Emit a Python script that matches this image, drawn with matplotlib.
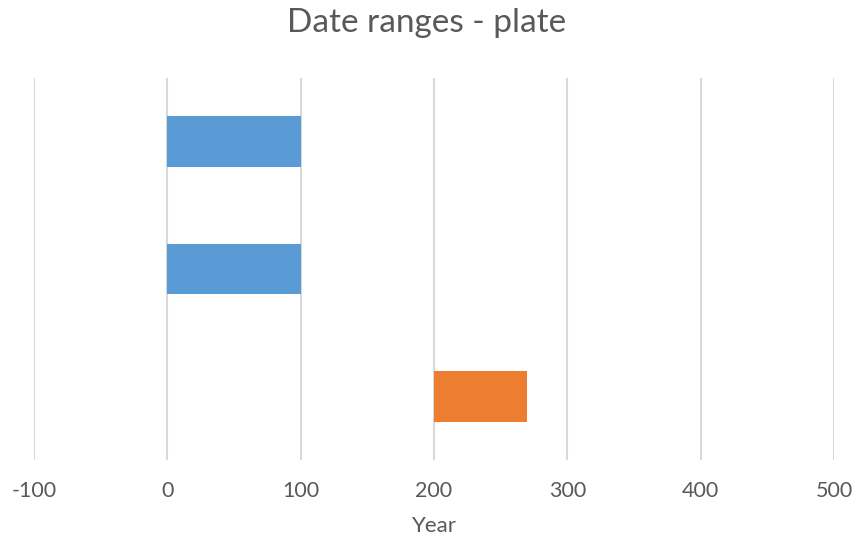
import matplotlib
matplotlib.use("Agg")
import matplotlib.pyplot as plt

# Date ranges per plate record (start year, end year)
categories = ["Plate A", "Plate B", "Plate C"]
start_years = [0, 0, 200]
end_years = [100, 100, 270]
bar_colors = ["#5B9BD5", "#5B9BD5", "#ED7D31"]
x_ticks = [-100, 0, 100, 200, 300, 400, 500]

plt.rcParams["font.family"] = ["Lato", "DejaVu Sans"]
text_color = "#595959"

fig = plt.figure(figsize=(8.54, 5.42), dpi=100)
ax = fig.add_axes([34 / 854, 82 / 542, 800 / 854, 382 / 542])

rows = list(range(len(categories)))
widths = [e - s for s, e in zip(start_years, end_years)]
ax.barh(rows, widths, left=start_years, height=0.4, color=bar_colors, zorder=3)

ax.set_xlim(x_ticks[0], x_ticks[-1])
ax.set_ylim(len(categories) - 0.5, -0.5)
ax.set_xticks(x_ticks)
ax.set_xticklabels([str(t) for t in x_ticks], fontsize=15.5, color=text_color)
ax.set_yticks([])
ax.tick_params(axis="x", length=0, pad=15)
ax.grid(axis="x", color="#D9D9D9", linewidth=1.5, zorder=0)
for side in ax.spines.values():
    side.set_visible(False)

ax.set_xlabel("Year", fontsize=16, color=text_color, labelpad=11)
fig.text(0.5, 1 - 23 / 542, "Date ranges - plate", ha="center", va="center",
         fontsize=24, color=text_color)

fig.savefig("out.png", dpi=100)
